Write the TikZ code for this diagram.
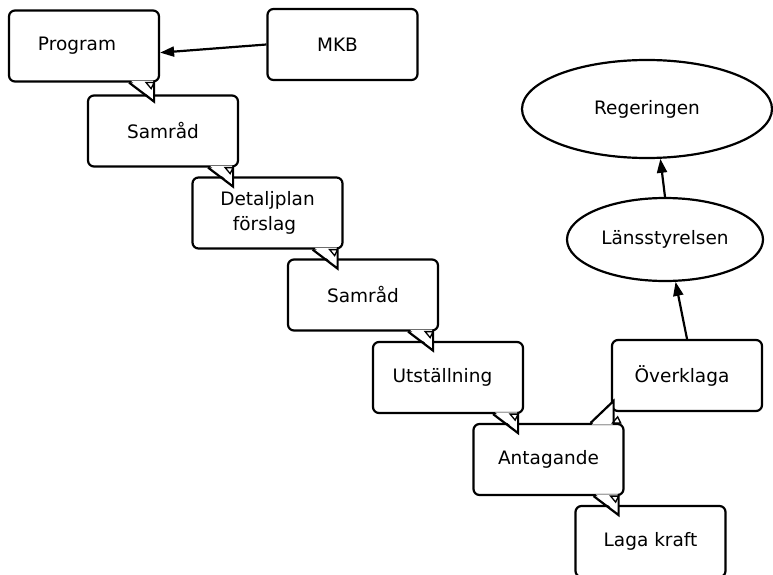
\documentclass[tikz,border=0pt]{standalone}
\usepackage{fontspec}
\setmainfont{DejaVu Sans}
\usetikzlibrary{positioning,arrows.meta,shapes.geometric,calc}

\begin{document}
\begin{tikzpicture}[x=1pt, y=-1pt,
  every node/.style={font=\fontsize{18.5}{25}\selectfont},
  box/.style={rectangle, rounded corners=6pt, draw=black, line width=2.2pt, fill=white,
               minimum width=150pt, minimum height=71pt, align=center, inner sep=0pt},
  oval/.style={ellipse, draw=black, line width=2.2pt, inner sep=0pt},
  tail/.style={draw=black, line width=2.2pt, line join=miter},
  up/.style={-{Triangle[length=14pt, width=10pt]}, line width=2.2pt}
]
  \useasboundingbox (0,0) rectangle (773,575);

  % planning steps (\d pushes the text a bit to the left)
  \foreach \n/\x/\y/\d/\lab in {prog/84/46/14/Program, mkb/342.5/44.5/10/MKB, samr1/163/131/0/{Samråd},
                                detalj/267.5/213/6/{Detaljplan\\förslag}, samr2/363/295/0/{Samråd},
                                utst/448/377.5/11/{Utställning}, antag/548.5/459.5/0/Antagande,
                                over/687/375.5/10/{Överklaga}, laga/650.5/541.5/0/{Laga kraft}} {
     \node[box] (\n) at (\x,\y) {\lab\hspace*{\d pt}};
  }

  % callout tails
  \foreach \n in {prog,samr1,detalj,samr2,utst,antag} {
     \fill[white] ($(\n.south east)+(-29,-1.8)$) -- ($(\n.south east)+(-6,18)$)
                  -- ($(\n.south east)+(-7,-1.8)$) -- cycle;
     \draw[tail] ($(\n.south east)+(-31,0)$) -- ($(\n.south east)+(-6,19)$)
                 -- ($(\n.south east)+(-6,0)$);
     \draw[line width=1.3pt] ($(\n.south east)+(-14,0)$) -- ($(\n.south east)+(-6,0)$)
                 -- ($(\n.south east)+(-9,6)$) -- cycle;
  }
  \fill[white] ($(antag.north east)+(-33,1.8)$) -- ($(antag.north east)+(-11,-21)$)
               -- ($(antag.north east)+(-12,1.8)$) -- cycle;
  \draw[tail] ($(antag.north east)+(-34,0)$) -- ($(antag.north east)+(-11,-22)$)
              -- ($(antag.north east)+(-11,0)$);
  \draw[line width=1.3pt] ($(antag.north east)+(-12,0)$) -- ($(antag.north east)+(-4,0)$)
              -- ($(antag.north east)+(-7,-6)$) -- cycle;

  % appeal instances
  \node[oval, minimum width=196pt, minimum height=83pt] (lans) at (665,239.5) {Länsstyrelsen};
  \node[oval, minimum width=250pt, minimum height=98pt] (reg) at (647,109) {Regeringen};

  \draw[up] (mkb.west) -- (prog.-5.4);
  \draw[up] (over.north) -- (lans.284);
  \draw[up] (lans.north) -- (reg.285);
\end{tikzpicture}
\end{document}
